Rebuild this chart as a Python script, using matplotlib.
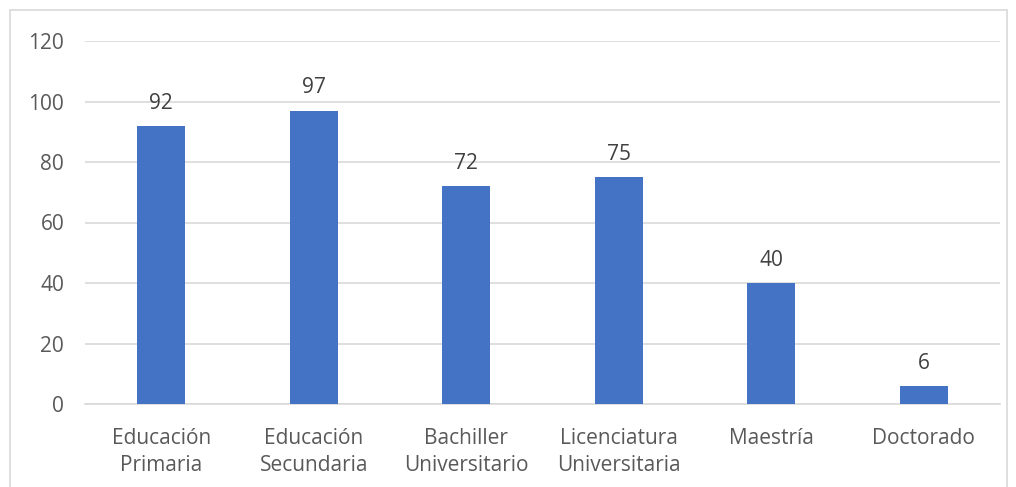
import matplotlib
matplotlib.use("Agg")
import matplotlib.pyplot as plt
from matplotlib.patches import Rectangle

categories = ["Educación\nPrimaria", "Educación\nSecundaria", "Bachiller\nUniversitario",
              "Licenciatura\nUniversitaria", "Maestría", "Doctorado"]
values = [92, 97, 72, 75, 40, 6]
yticks = [0, 20, 40, 60, 80, 100, 120]

plt.rcParams['font.family'] = ['Open Sans', 'DejaVu Sans']
txt = '#595959'
fs = 15

fig = plt.figure(figsize=(10.16, 4.87), dpi=100)
fig.patches.append(Rectangle((10/1016, -0.1), 997/1016, 1.1 - 10/487, transform=fig.transFigure,
                             fill=False, edgecolor='#d9d9d9', linewidth=1.2))
ax = fig.add_axes([85/1016, (487-404)/487, 915/1016, 363/487])
x = list(range(len(categories)))
bars = ax.bar(x, values, width=0.316, color='#4472C4', zorder=3)
for xi, v in zip(x, values):
    ax.text(xi, v + 4, str(v), ha='center', va='bottom', fontsize=fs, color='#404040')
ax.set_xlim(-0.5, len(categories) - 0.5)
ax.set_ylim(0, 120)
ax.set_yticks(yticks)
ax.set_xticks(x)
ax.set_xticklabels(categories, fontsize=fs, color=txt, linespacing=1.4)
ax.tick_params(axis='y', labelsize=fs, labelcolor=txt, length=0, pad=15)
ax.tick_params(axis='x', length=0, pad=17)
ax.grid(axis='y', color='#d9d9d9', linewidth=1.2, zorder=0)
for s in ['top', 'right', 'left']:
    ax.spines[s].set_visible(False)
ax.spines['bottom'].set_color('#d9d9d9')
ax.spines['bottom'].set_linewidth(1.2)
fig.savefig('out.png', dpi=100)
